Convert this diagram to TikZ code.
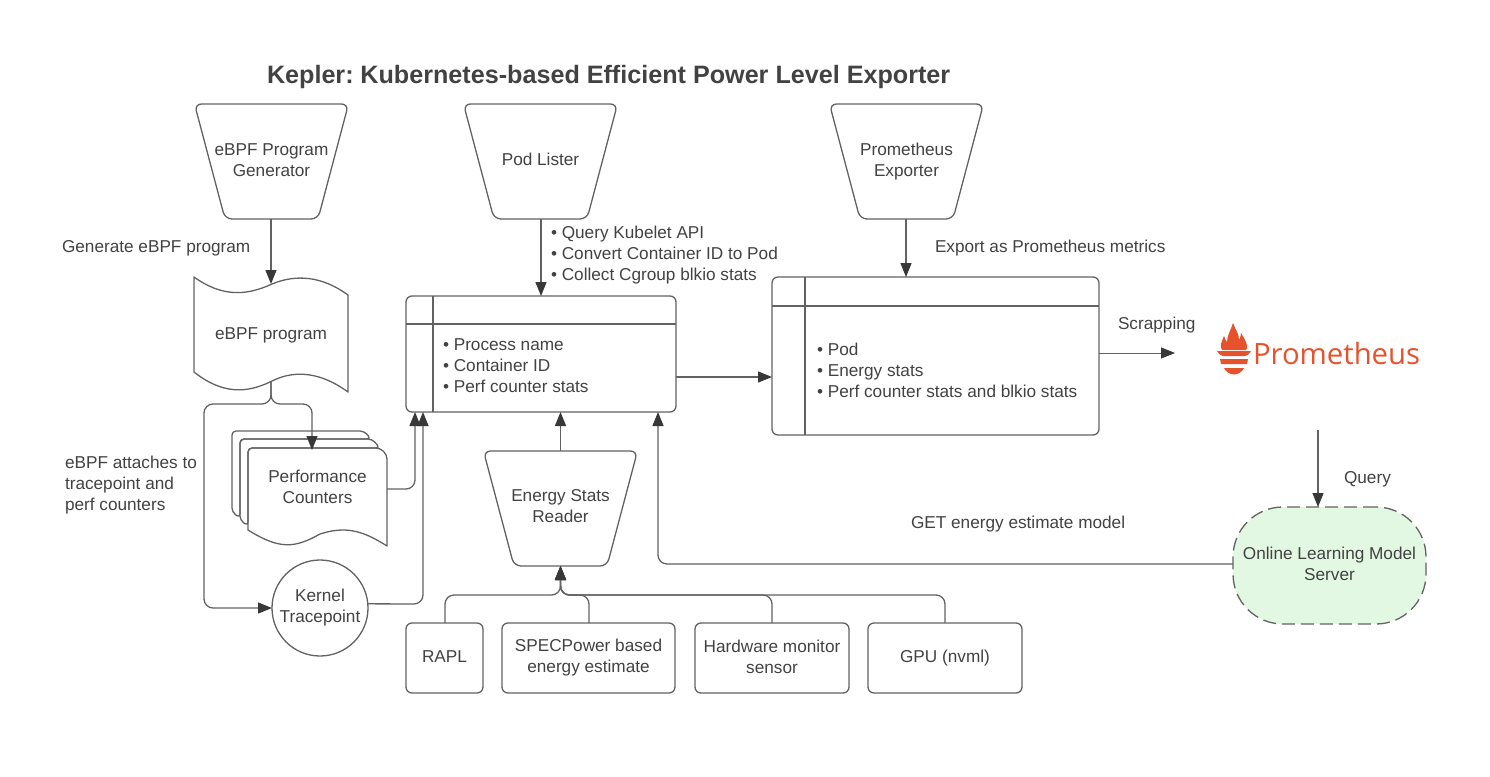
\documentclass[tikz,border=0pt]{standalone}
\usepackage{fontspec}
\setmainfont{Liberation Sans}
\newfontfamily\promfont{Open Sans}
\usetikzlibrary{arrows.meta,calc}
\definecolor{ln}{HTML}{626262}
\definecolor{tx}{HTML}{424242}
\definecolor{prom}{HTML}{E6522C}
\definecolor{srv}{HTML}{E3F8E3}
\tikzset{
  base/.style={inner sep=0pt,outer sep=0pt,text=tx,font=\fontsize{17.2}{21}\selectfont,align=center},
  lab/.style={base,anchor=west,align=left},
  box/.style={base,draw=ln,line width=1.3pt,rounded corners=6pt},
  outline/.style={draw=ln,line width=1.3pt,line join=round},
  conn/.style={draw=ln,line width=1.3pt,rounded corners=9pt,-{Triangle[length=14pt,width=11pt,color=black!78]}},
}
% trapezoid: name, left, right, top, bottom, inset, text y, text
\newcommand{\trap}[8]{%
  \draw[outline,rounded corners=7pt] (#2-1.5,#4) -- (#3+1.5,#4) -- (#3-#6,#5) -- (#2+#6,#5) -- cycle;
  \node[base,minimum width=#3-#2,minimum height=#5-#4] (#1) at ({(#2+#3)/2},{(#4+#5)/2}) {};
  \node[base] (#1text) at ({(#2+#3)/2},#7) {#8};
}
\begin{document}
\begin{tikzpicture}[x=1pt,y=-1pt]
\useasboundingbox (0,0) rectangle (1490,776);
\node[base,anchor=west,font=\fontsize{25.15}{28}\bfseries\selectfont] (title) at (267,77) {Kepler:\hspace{-2.5pt} Kubernetes-based Efficient Power Level Exporter};

% trapezoids
\trap{gen}{196}{347}{104}{219}{29}{160.5}{eBPF Program\\Generator}
\trap{pod}{465}{616}{104}{219}{29}{159.5}{Pod Lister}
\trap{exp}{831}{982}{104}{219}{29}{161.5}{Prometheus\\Exporter}
\trap{reader}{485}{636}{451}{566}{29}{506}{Energy Stats\\Reader}

% eBPF program
\draw[outline] (194,277) .. controls (222,297) and (246,296) .. (272,284) .. controls (296,274) and (322,276) .. (348,295) -- (348,392) .. controls (322,373) and (296,369) .. (272,381) .. controls (246,394) and (222,394) .. (194,372) -- cycle;
\node[base,minimum width=154pt,minimum height=98pt] (prog) at (271,333) {};
\node[base] (progtext) at (271,335) {eBPF program};

% performance counters
\draw[outline,rounded corners=4pt] (232,431) -- (364,431) -- (371,439) -- (240,439) -- (240,518) -- (232,512) -- cycle;
\draw[outline,rounded corners=4pt] (240,439) -- (372,439) -- (380,448) -- (248,448) -- (248,526) -- (240,520) -- cycle;
\draw[outline,rounded corners=4pt] (248,490) -- (248,448) -- (380,448) -- (387,455) [rounded corners=0pt] -- (387,546) .. controls (362,530) and (345,526) .. (320,534) .. controls (295,548) and (280,550) .. (248,530) -- cycle;
\node[base,minimum width=139pt,minimum height=98pt] (perf) at (317.5,487) {Performance\\Counters};
\coordinate (perfin) at (312,450);
\coordinate (perfout) at (387,489);

% kernel
\node[base,draw=ln,line width=1.3pt,circle,minimum size=96pt] (kernel) at (320,608) {};
\node[base] (kerneltext) at (320,607.5) {Kernel\\Tracepoint};

% process table
\node[box,minimum width=270pt,minimum height=116pt] (proc) at (541,354) {};
\draw[outline] (433,296) -- (433,412) (406,324) -- (676,324);
\node[lab] (proctext) at (443,366) {• Process name\\• Container ID\\• Perf counter stats};

% export table
\node[box,minimum width=327pt,minimum height=158pt] (table) at (935.5,356) {};
\draw[outline] (805,277) -- (805,435) (772,306) -- (1099,306);
\node[lab] (tabletext) at (817,370) {• Pod\\• Energy stats\\• Perf counter stats and blkio stats};

% bottom boxes
\node[box,minimum width=77pt,minimum height=70pt] (rapl) at (444.5,658) {};
\node[base] (rapltext) at (444.5,656.5) {RAPL};
\node[box,minimum width=173pt,minimum height=70pt] (spec) at (588.5,658) {SPECPower based\\energy estimate};
\node[box,minimum width=154pt,minimum height=70pt] (hw) at (772,658) {};
\node[base] (hwtext) at (772,656.5) {Hardware monitor\\sensor};
\node[box,minimum width=154pt,minimum height=70pt] (gpu) at (945,658) {GPU (nvml)};

% server
\node[base,draw=ln,dash pattern=on 13pt off 6pt,fill=srv,line width=1.3pt,rounded corners=50pt,minimum width=193pt,minimum height=117pt] (server) at (1329.5,565.5) {};
\node[base] (servertext) at (1329.5,563.5) {Online Learning Model\\Server};
\coordinate (serverout) at (1233,564);

% labels
\node[lab] (l1) at (62,248) {Generate eBPF program};
\node[lab] (l2) at (65,485) {eBPF attaches to\\tracepoint and\\perf counters};
\node[lab] (l3) at (551,255) {• Query Kubelet API\\• Convert Container ID to Pod\\• Collect Cgroup blkio stats};
\node[lab] (l4) at (935,248) {Export as Prometheus metrics};
\node[lab] (l5) at (1118,325) {Scrapping};
\node[lab] (l6) at (1344,479) {Query};
\node[lab] (l7) at (911,524) {GET energy estimate model};

% Prometheus logo
\fill[prom] (1222,350) .. controls (1219,346) and (1222,341) .. (1224,336) .. controls (1225,339) and (1226,341) .. (1227,342) .. controls (1227,335) and (1231,330) .. (1233,323) .. controls (1235,329) and (1239,333) .. (1239,340) .. controls (1240,338) and (1241,336) .. (1241,333) .. controls (1244,338) and (1247,343) .. (1247,346) .. controls (1247,348) and (1247,349) .. (1246,350) -- cycle;
\fill[prom] (1217,351) -- (1251,351) .. controls (1249,354) and (1247,356) .. (1245,356) -- (1223,356) .. controls (1221,356) and (1219,354) .. (1217,351) -- cycle;
\fill[prom] (1220,359) -- (1248,359) -- (1247,364) -- (1221,364) -- cycle;
\fill[prom] (1224,368) -- (1244,368) .. controls (1242,372) and (1238,374.5) .. (1234,374.5) .. controls (1230,374.5) and (1226,372) .. (1224,368) -- cycle;
\node[base,anchor=west,text=prom,font=\promfont\fontsize{29.3}{32}\selectfont] (promtext) at (1253,354) {Prometheus};
\coordinate (promin) at (1175,353);
\coordinate (promout) at (1318,430);

% connectors
\draw[conn] (gen.south -| prog) -- (prog.north);
\draw[conn] (pod.south -| proc.north) -- (proc.north);
\draw[conn] (exp.south -| 906,0) -- (906,277);
\draw[conn] (reader.north) -- (proc.south -| reader.north);
\draw[conn] (proc.east |- 0,377) -- (table.west |- 0,377);
\draw[conn,line width=1pt] (table.east |- promin) -- (promin);
\draw[conn] (promout) -- (server.north -| promout);
\draw[conn] (prog.south) -- (271,404) -- (312,404) -- (perfin);
\draw[conn] (prog.south) -- (271,404) -- (204,404) -- (204,608) -- (kernel.west);
\draw[conn] (perfout) -- (415,489) -- (415,412);
\draw[conn] (kernel.5) -- (423,604) -- (423,412);
\draw[conn] (serverout) -- (658,564) -- (658,412);
\draw[conn] (rapl.north -| 445,0) -- (445,595) -- (560.5,595) -- (reader.south);
\draw[conn] (spec.north -| 589,0) -- (589,595) -- (560.5,595) -- (reader.south);
\draw[conn] (hw.north) -- (772,595) -- (560.5,595) -- (reader.south);
\draw[conn] (gpu.north) -- (945,595) -- (560.5,595) -- (reader.south);
\end{tikzpicture}
\end{document}
